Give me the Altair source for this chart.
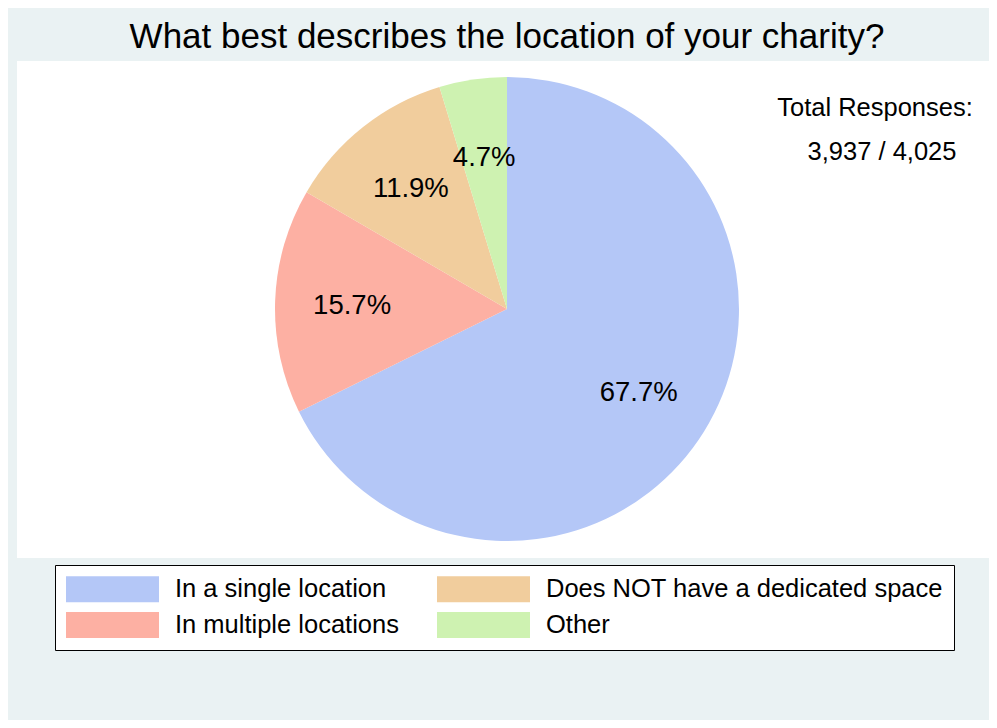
import altair as alt
import pandas as pd

# ---- data ----
categories = ["In a single location", "In multiple locations",
              "Does NOT have a dedicated space", "Other"]
percentages = [67.7, 15.7, 11.9, 4.7]
pct_labels = ["67.7%", "15.7%", "11.9%", "4.7%"]
legend_order = ["In a single location", "Does NOT have a dedicated space",
                "In multiple locations", "Other"]
legend_colors = ["#B4C7F7", "#F1CD9D", "#FDB0A3", "#CEF2B1"]
title_text = ["What best describes the location of your charity?"]
note_lines = ["Total Responses:", "3,937 / 4,025"]

FONT = "Liberation Sans"
W, H = 981, 712
CX, CY = 499, 301

df = pd.DataFrame({
    "category": categories,
    "value": percentages,
    "label": pct_labels,
    "idx": list(range(len(categories))),
})

# white plot region
plot_region = alt.Chart(alt.Data(values=[{}])).mark_rect(
    color="white"
).encode(
    x=alt.value(9), x2=alt.value(W), y=alt.value(53), y2=alt.value(550)
)

pie = alt.Chart(df).mark_arc(radius=232, stroke=None).encode(
    theta=alt.Theta("value:Q", stack=True),
    color=alt.Color(
        "category:N",
        scale=alt.Scale(domain=legend_order, range=legend_colors),
        legend=alt.Legend(
            title=None,
            orient="none",
            direction="horizontal",
            legendX=47,
            legendY=557,
            columns=2,
            columnPadding=37,
            rowPadding=9,
            padding=11,
            symbolType="M-3.577,-1L3.577,-1L3.577,1L-3.577,1Z",
            symbolSize=676,
            symbolOffset=33.5,
            symbolStrokeWidth=0,
            symbolOpacity=1,
            labelFont=FONT,
            labelFontSize=25.5,
            labelColor="black",
            labelOffset=49.5,
            labelLimit=500,
            strokeColor="black",
            fillColor="white",
        ),
    ),
    order=alt.Order("idx:Q"),
    x=alt.value(CX),
    y=alt.value(CY),
)

pie_labels = alt.Chart(df).mark_text(
    radius=155, font=FONT, color="black", baseline="middle"
).encode(
    theta=alt.Theta("value:Q", stack=True),
    text="label:N",
    order=alt.Order("idx:Q"),
    size=alt.value(27.5),
    x=alt.value(CX),
    y=alt.value(CY + 2),
)

title = alt.Chart(alt.Data(values=[{"t": title_text[0]}])).mark_text(
    font=FONT, fontSize=35, color="black", baseline="alphabetic", align="center"
).encode(text="t:N", x=alt.value(499), y=alt.value(40))

note1 = alt.Chart(alt.Data(values=[{"t": note_lines[0]}])).mark_text(
    font=FONT, fontSize=25.5, color="black", baseline="alphabetic", align="center"
).encode(text="t:N", x=alt.value(867), y=alt.value(108))

note2 = alt.Chart(alt.Data(values=[{"t": note_lines[1]}])).mark_text(
    font=FONT, fontSize=25.5, color="black", baseline="alphabetic", align="center"
).encode(text="t:N", x=alt.value(874), y=alt.value(152))

chart = alt.layer(plot_region, pie, pie_labels, title, note1, note2).properties(
    width=W, height=H,
    autosize=alt.AutoSizeParams(type="none"),
    padding=0,
    background="#EAF2F3",
).configure_view(stroke=None)

chart.save("out.html", embed_options={"renderer": "svg", "actions": False})
